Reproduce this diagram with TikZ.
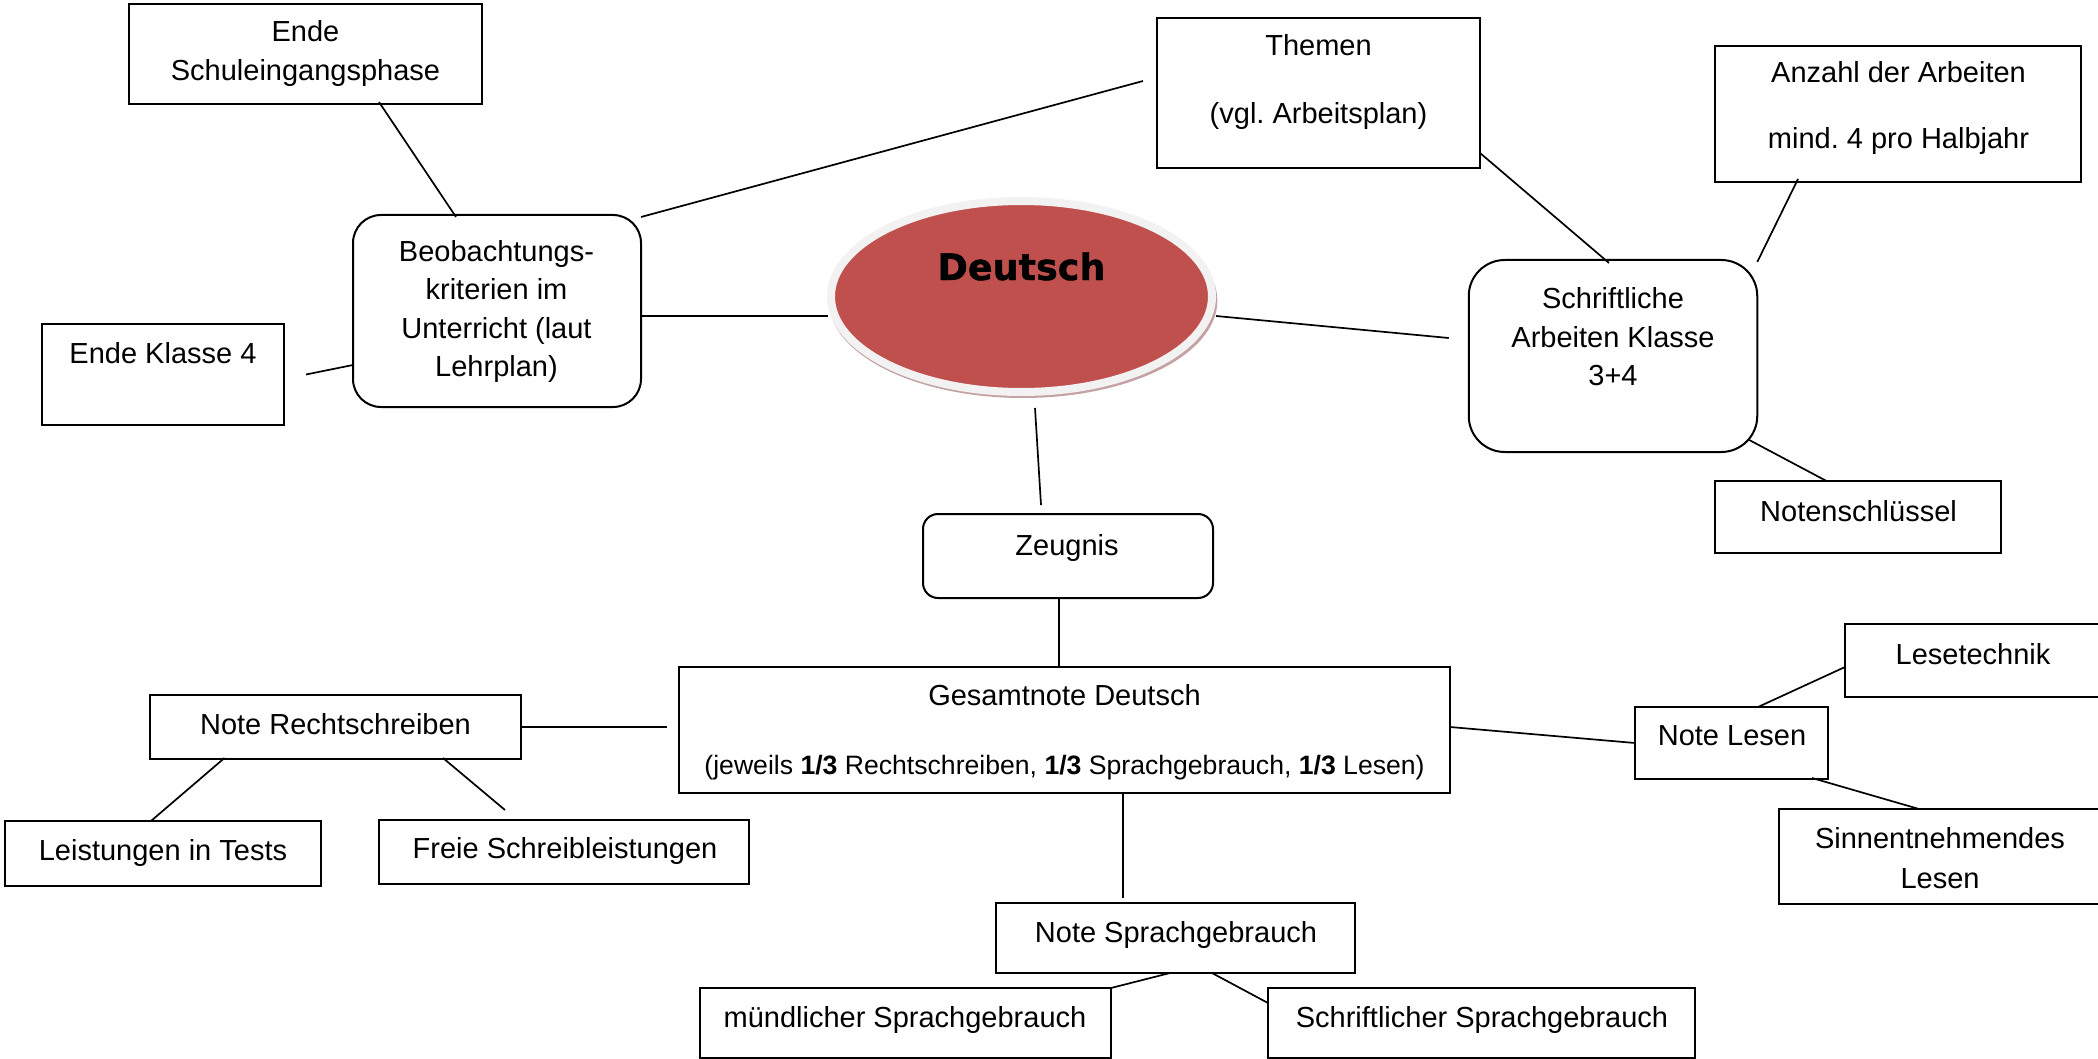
\documentclass[tikz,border=0pt]{standalone}
\usepackage{fontspec}
\setmainfont{Liberation Sans}
\newfontfamily\deufont{DejaVu Sans Bold}[FakeBold=1.2]
\usetikzlibrary{calc,shapes.geometric,shadows}
\definecolor{deured}{HTML}{C0504D}
\definecolor{ringc}{HTML}{F2F2F2}
\definecolor{shadc}{HTML}{C4A2A3}
\frenchspacing
\begin{document}
\begin{tikzpicture}[x=1pt,y=-1pt,
  box/.style={draw=black, line width=2pt, inner sep=0pt, outer sep=0pt, fill=white},
  rbox/.style={box, rounded corners=#1},
  txt/.style={inner sep=0pt, align=center, font=\fontsize{29}{38.5}\selectfont},
  btxt/.style={txt, anchor=base},
  conn/.style={line width=1.7pt}]
\useasboundingbox (0,0) rectangle (2098,1059);

% boxes
\node[box, minimum width=353, minimum height=100] (es) at (305.5,54) {};
\node[rbox=28, minimum width=288, minimum height=192] (beob) at (497,311) {};
\node[box, minimum width=242, minimum height=101] (ek4) at (162.5,374.5) {};
\node[box, minimum width=323, minimum height=150] (themen) at (1318.5,93) {};
\node[box, minimum width=366, minimum height=136] (anzahl) at (1898,114) {};
\node[rbox=36, minimum width=288.5, minimum height=192] (schrift) at (1613,356) {};
\node[box, minimum width=286, minimum height=72] (noten) at (1858,517) {};
\node[ellipse, fill=deured, draw=ringc, line width=8pt, inner sep=0pt, outer sep=0pt,
      minimum width=381, minimum height=191,
      drop shadow={shadow xshift=1.5pt, shadow yshift=-4pt, shadow scale=1.02, fill=shadc, opacity=1}]
      (deutsch) at (1021.5,296.5) {};
\node[rbox=15, minimum width=290, minimum height=84] (zeugnis) at (1068,556) {};
\node[box, minimum width=771, minimum height=126] (gesamt) at (1064.5,730) {};
\node[box, minimum width=371, minimum height=64] (nr) at (335.5,727) {};
\node[box, minimum width=316, minimum height=65] (leist) at (163,853.5) {};
\node[box, minimum width=370, minimum height=64] (freie) at (564,852) {};
\node[box, minimum width=193, minimum height=72] (nl) at (1731.5,743) {};
\node[box, minimum width=255, minimum height=73] (lese) at (1972.5,660.5) {};
\node[box, minimum width=321, minimum height=95] (sinn) at (1939.5,856.5) {};
\node[box, minimum width=359, minimum height=70] (ns) at (1175.5,938) {};
\node[box, minimum width=411, minimum height=70] (mund) at (905.5,1023) {};
\node[box, minimum width=427, minimum height=70] (schsg) at (1481.5,1023) {};

% texts
\node[txt] (es-t) at (305.5,53.5) {Ende\\Schuleingangsphase};
\node[txt] (beob-t) at (496.5,311.5) {Beobachtungs-\\kriterien im\\Unterricht (laut\\Lehrplan)};
\node[btxt] (ek4-t) at (163,363.5) {Ende Klasse 4};
\node[txt] (themen-t) at (1318.5,82) {Themen\\[29.5pt](vgl. Arbeitsplan)};
\node[txt] (anzahl-t) at (1898.5,108) {Anzahl der Arbeiten\\[27pt]mind. 4 pro Halbjahr};
\node[txt] (schrift-t) at (1613,337) {Schriftliche\\Arbeiten Klasse\\3+4};
\node[btxt] (noten-t) at (1858.5,521.5) {Notenschlüssel};
\node[inner sep=0pt, anchor=base, font=\deufont\fontsize{36.5}{40}\selectfont] (deutsch-t) at (1021.5,280) {Deutsch};
\node[btxt] (zeugnis-t) at (1067,555.5) {Zeugnis};
\node[txt] (gesamt-t) at (1064.5,732) {Gesamtnote Deutsch\\[30pt]{\fontsize{26.6}{34}\selectfont(jeweils \textbf{1/3} Rechtschreiben, \textbf{1/3} Sprachgebrauch, \textbf{1/3} Lesen)}};
\node[btxt] (nr-t) at (335.5,734.5) {Note Rechtschreiben};
\node[btxt] (leist-t) at (163,860.5) {Leistungen in Tests};
\node[btxt] (freie-t) at (565,858.5) {Freie Schreibleistungen};
\node[btxt] (nl-t) at (1732,745.5) {Note Lesen};
\node[btxt] (lese-t) at (1973,664) {Lesetechnik};
\node[txt] (sinn-t) at (1940,858) {Sinnentnehmendes\\[1.5pt]Lesen};
\node[btxt] (ns-t) at (1176,942.5) {Note Sprachgebrauch};
\node[btxt] (mund-t) at (905,1027.5) {mündlicher Sprachgebrauch};
\node[btxt] (schsg-t) at (1482,1027.5) {Schriftlicher Sprachgebrauch};

% connectors
\draw[conn] ($(es.south)+(73.5,-2)$) -- ($(beob.north)+(-41,2)$);
\draw[conn] ($(ek4.east)+(22.5,0)$) -- ($(beob.west)+(0,54)$);
\draw[conn] ($(beob.north east)+(0,2)$) -- ($(themen.west)+(-14,-12)$);
\draw[conn] ($(beob.east)+(0,5)$) -- ($(deutsch.west)+(-3,19.5)$);
\draw[conn] ($(themen.south east)+(0,-15)$) -- ($(schrift.north)+(-4,3)$);
\draw[conn] ($(anzahl.south)+(-100,-3)$) -- ($(schrift.north east)+(0,2)$);
\draw[conn] ($(deutsch.east)+(4,19.5)$) -- ($(schrift.west)+(-20,-18)$);
\draw[conn] ($(schrift.south east)+(-8,-12)$) -- ($(noten.north)+(-31.5,0)$);
\draw[conn] ($(deutsch.south)+(13.5,16)$) -- ($(zeugnis.north)+(-27,-9)$);
\draw[conn] ($(zeugnis.south)+(-9,0)$) -- ($(gesamt.north)+(-5.5,0)$);
\draw[conn] (nr.east) -- ($(gesamt.west)+(-12,-3)$);
\draw[conn] ($(nr.south)+(-111,-1)$) -- ($(leist.north)+(-12,0)$);
\draw[conn] ($(nr.south)+(107.5,-1)$) -- ($(freie.north)+(-59,-10)$);
\draw[conn] ($(gesamt.east)+(0,-3)$) -- (nl.west);
\draw[conn] ($(nl.north)+(26.5,0)$) -- ($(lese.west)+(0,6.5)$);
\draw[conn] ($(nl.south)+(80.5,-1)$) -- ($(sinn.north)+(-20.5,0)$);
\draw[conn] ($(gesamt.south)+(58.5,0)$) -- ($(ns.north)+(-52.5,-5)$);
\draw[conn] ($(ns.south)+(-5.5,0)$) -- (mund.north east);
\draw[conn] ($(ns.south)+(36.5,0)$) -- ($(schsg.west)+(0,-20)$);
\end{tikzpicture}
\end{document}
